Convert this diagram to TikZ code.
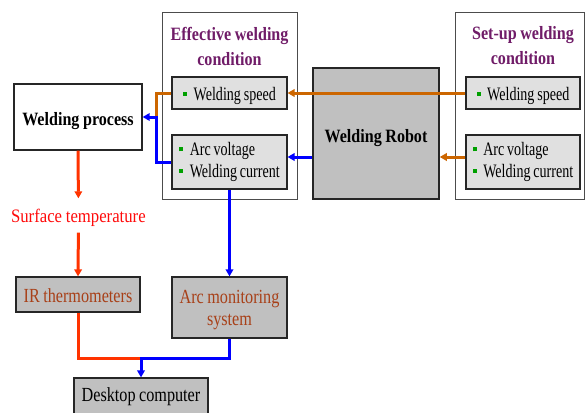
\documentclass[tikz,border=0pt]{standalone}
\usepackage{fontspec}
\setmainfont{Liberation Serif}
\newfontfamily\itemfont{Liberation Serif}[FakeStretch=0.74,WordSpace=0.8]
\newfontfamily\labelfont{Liberation Serif}[FakeStretch=0.81,WordSpace=0.85]
\newfontfamily\surffont{Liberation Serif}[FakeStretch=0.88,WordSpace=0.9]
\newfontfamily\headfont{Liberation Serif}[FakeStretch=0.855,WordSpace=0.9]
\usetikzlibrary{arrows.meta}

\definecolor{titlepurple}{RGB}{112,28,104}
\definecolor{labelbrown}{RGB}{168,64,24}
\definecolor{speedorange}{RGB}{204,102,0}
\definecolor{sigblue}{RGB}{0,0,255}
\definecolor{heatred}{RGB}{255,51,0}
\definecolor{surfred}{RGB}{255,10,10}
\definecolor{boxlight}{RGB}{224,224,224}
\definecolor{boxgray}{RGB}{192,192,192}
\definecolor{bulletgreen}{RGB}{0,160,0}

% small green square bullet in front of an item
\newcommand{\itm}[1]{\textcolor{bulletgreen}{\rule[4.3pt]{4pt}{4pt}}\hspace{6.5pt}#1}

\tikzset{
  frame/.style={draw=black!70, line width=0.9pt, fill=white, inner sep=0pt},
  headtxt/.style={align=center, inner sep=0pt, text=titlepurple,
    font=\headfont\bfseries\fontsize{18.8}{25}\selectfont},
  itembox/.style={draw=black!85, line width=1.1pt, fill=boxlight, inner xsep=6pt,
    inner ysep=0pt, align=left, font=\itemfont\fontsize{19}{21.5}\selectfont},
  bigbox/.style={draw=black!85, line width=1.3pt, inner sep=0pt, align=center,
    text height=16.5pt, text depth=0pt,
    font=\headfont\bfseries\fontsize{18.8}{22}\selectfont},
  devbox/.style={draw=black!85, line width=1.2pt, fill=boxgray, inner sep=0pt,
    align=center, font=\labelfont\fontsize{20}{22}\selectfont},
  link/.style={line width=3pt},
  tip/.style={-{Triangle[length=7pt,width=7.5pt]}}
}

\begin{document}
\begin{tikzpicture}[x=1pt,y=-1pt]
\useasboundingbox (0,0) rectangle (585,412);
\clip (0,0) rectangle (585,412);

% effective welding condition
\node[frame, minimum width=135pt, minimum height=187pt] (eff) at (229.5,105.5) {};
\node[headtxt] (efft) at (229.5,46) {Effective welding\\condition};
\node[itembox, text height=14pt, text depth=0pt, minimum width=115pt, minimum height=32pt] (effws) at (229.5,93) {\itm{Welding speed}};
\node[itembox, minimum width=115pt, minimum height=54pt] (effav) at (229.5,162) {\itm{Arc voltage}\\\itm{Welding current}};

% set-up welding condition
\node[frame, minimum width=129pt, minimum height=187pt] (setup) at (519.5,105.5) {};
\node[headtxt] (setupt) at (523,46) {Set-up welding\\condition};
\node[itembox, text height=14pt, text depth=0pt, minimum width=114pt, minimum height=32pt] (setws) at (523,93) {\itm{Welding speed}};
\node[itembox, minimum width=114pt, minimum height=54pt] (setav) at (523,162) {\itm{Arc voltage}\\\itm{Welding current}};

% robot and process
\node[bigbox, fill=boxgray, line width=1.5pt, text height=17pt, minimum width=126pt, minimum height=131pt] (robot) at (376,133.5) {Welding Robot};
\node[bigbox, fill=white, minimum width=128pt, minimum height=66pt] (wp) at (78,117) {Welding process};
\node[inner sep=0pt, text height=14pt, text depth=0pt, minimum height=34pt, text=surfred, font=\surffont\fontsize{19}{21}\selectfont] (surf) at (78.4,215.5) {Surface temperature};

% measuring devices
\node[devbox, text=labelbrown, text height=16.4pt, text depth=0pt, minimum width=124pt, minimum height=35pt] (ir) at (78,294.5) {IR thermometers};
\node[devbox, text=labelbrown, text depth=0pt, minimum width=115pt, minimum height=61pt] (ams) at (229.5,307.5) {Arc monitoring\\system};
\node[devbox, text=black, text height=11.4pt, text depth=0pt, minimum width=134pt, minimum height=36pt] (desk) at (141,396) {Desktop computer};

% junction points of the connectors
\coordinate (jn) at (156,117);
\coordinate (avline) at (0,157);
\coordinate (mrg) at (141,358);

% welding speed path
\draw[link, speedorange, tip] (setws.west) -- (effws.east);
\draw[link, speedorange] (effws.west) -| (jn);

% arc voltage / current path
\draw[link, speedorange, tip] (setav.west |- avline) -- (robot.east |- avline);
\draw[link, sigblue, tip] (robot.west |- avline) -- (effav.east |- avline);
\draw[link, sigblue, tip] (effav.west) -| (jn) -- (wp.east);

% temperature measurement
\draw[link, heatred, tip] (wp.south) -- (surf.north);
\draw[link, heatred, tip] (surf.south) -- (ir.north);
\draw[link, heatred] (ir.south) |- (mrg);

% arc monitoring
\draw[link, sigblue, tip] (effav.south) -- (ams.north);
\draw[link, sigblue, tip] (ams.south) |- (mrg) -- (desk.north);
\end{tikzpicture}
\end{document}
